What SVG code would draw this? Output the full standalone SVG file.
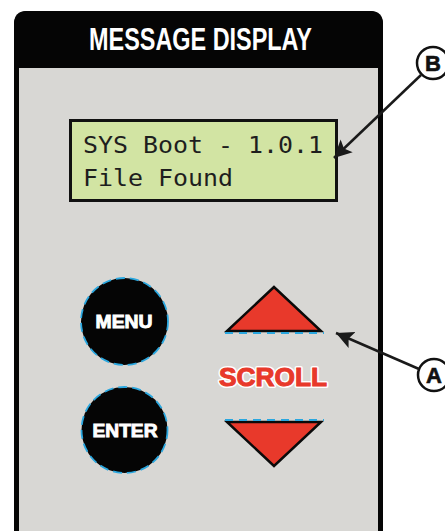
<svg xmlns="http://www.w3.org/2000/svg" width="445" height="531" viewBox="0 0 445 531">
<style>
.btn{fill:#050505;stroke:#2aa7df;stroke-width:1.8;stroke-dasharray:9 5}
.btxt{fill:#fff;stroke:#fff;stroke-width:0.9;font-family:"Liberation Sans",Arial,sans-serif;font-weight:bold;font-size:18px;text-anchor:middle}
.tri{fill:#e8392b;stroke:#0a0a0a;stroke-width:2.5;stroke-linejoin:miter}
.dash{stroke:#2aa7df;stroke-width:2;stroke-dasharray:8 6;fill:none}
.lcd{font-family:"DejaVu Sans Mono","Liberation Mono",monospace;font-size:23px;fill:#1e1e1e}
.callout{fill:#fff;stroke:#111;stroke-width:2.5}
.ctxt{font-family:"Liberation Sans",Arial,sans-serif;font-weight:bold;font-size:22px;fill:#111;stroke:#111;stroke-width:0.6;text-anchor:middle}
.lead{stroke:#1a1a1a;stroke-width:2.5;fill:none}
.scr{font-family:"Liberation Sans",Arial,sans-serif;font-weight:bold;font-size:25px;text-anchor:middle}
</style>
<defs>
<marker id="ah" markerWidth="8" markerHeight="8" refX="7" refY="4" orient="auto" markerUnits="strokeWidth">
<path d="M0,0.5 L7,4 L0,7.5 L1.5,4 Z" fill="#1a1a1a"/>
</marker>
</defs>
<rect width="445" height="531" fill="#fff"/>
<g id="panel">
<rect x="16.5" y="13.5" width="364" height="530" rx="10" fill="#d8d7d4" stroke="#050505" stroke-width="5"/>
<path d="M14,67 L14,24 Q14,11 27,11 L370,11 Q383,11 383,24 L383,68 L14,68 Z" fill="#050505"/>
<text x="200.5" y="50" font-family="Liberation Sans,Arial,sans-serif" font-weight="bold" font-size="31" fill="#fff" text-anchor="middle" textLength="223" lengthAdjust="spacingAndGlyphs">MESSAGE DISPLAY</text>
</g>
<g id="lcd">
<rect x="70.5" y="120.5" width="266" height="80" fill="#d2e4a3" stroke="#111" stroke-width="3"/>
<text class="lcd" x="83" y="153" textLength="240" lengthAdjust="spacingAndGlyphs">SYS Boot - 1.0.1</text>
<text class="lcd" x="83" y="186" textLength="150" lengthAdjust="spacingAndGlyphs">File Found</text>
</g>
<g id="menu">
<circle class="btn" cx="124.5" cy="321.5" r="43.5"/>
<text class="btxt" x="124" y="328" textLength="57" lengthAdjust="spacingAndGlyphs">MENU</text>
</g>
<g id="enter">
<circle class="btn" cx="124.5" cy="430" r="43"/>
<text class="btxt" x="125" y="437" textLength="65" lengthAdjust="spacingAndGlyphs">ENTER</text>
</g>
<g id="scroll-up">
<polygon class="tri" points="274,287 227,331 321,331"/>
<line class="dash" x1="225" y1="333" x2="324" y2="333"/>
</g>
<g id="scroll-label">
<text class="scr" x="273" y="386" fill="#fff" stroke="#fff" stroke-width="4" stroke-linejoin="round" textLength="108" lengthAdjust="spacingAndGlyphs">SCROLL</text>
<text class="scr" x="273" y="386" fill="#e8392b" stroke="#e8392b" stroke-width="1" textLength="108" lengthAdjust="spacingAndGlyphs">SCROLL</text>
</g>
<g id="scroll-down">
<polygon class="tri" points="227,422 321,422 274,466"/>
<line class="dash" x1="225" y1="420" x2="324" y2="420"/>
</g>
<g id="callout-b">
<circle class="callout" cx="433" cy="63" r="16"/>
<text class="ctxt" x="433" y="71">B</text>
</g>
<g id="callout-a">
<circle class="callout" cx="434" cy="375" r="16"/>
<text class="ctxt" x="434" y="383">A</text>
</g>
<g id="connectors">
<line class="lead" x1="421" y1="75" x2="334" y2="158" marker-end="url(#ah)"/>
<line class="lead" x1="419" y1="369" x2="336" y2="333" marker-end="url(#ah)"/>
</g>
</svg>
